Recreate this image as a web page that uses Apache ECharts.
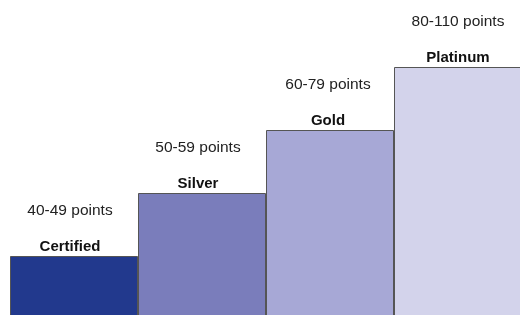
<!DOCTYPE html>
<html>
<head>
<meta charset="utf-8">
<script src="https://cdn.jsdelivr.net/npm/echarts@6/dist/echarts.min.js"></script>
<style>
  html, body { margin: 0; padding: 0; background: #fff; }
  #chart { width: 520px; height: 315px; }
</style>
</head>
<body>
<div id="chart"></div>
<script>
const levels = ['Certified', 'Silver', 'Gold', 'Platinum'];
const pointRanges = ['40-49 points', '50-59 points', '60-79 points', '80-110 points'];
const steps = [1, 2, 3, 4];
const colors = ['#22398d', '#7a7dbb', '#a7a8d6', '#d3d3eb'];
// labels in the original sit slightly left of bar centre
const labelShift = [-4, -4, -2, 0];

const chart = echarts.init(document.getElementById('chart'), null, { renderer: 'canvas' });

chart.setOption({
    animation: false,
    // grid runs a little past the bottom and right edges, like the original
    grid: { left: 10, top: 67, width: 512, height: 252, outerBoundsMode: 'none', containLabel: false },
    xAxis: {
        type: 'category',
        data: levels,
        show: false,
    },
    yAxis: {
        type: 'value',
        min: 0,
        max: 4,
        show: false,
    },
    series: [{
        type: 'bar',
        barWidth: '100%',
        barCategoryGap: 0,
        data: steps.map((v, i) => ({
            value: v,
            itemStyle: { color: colors[i] },
            label: { offset: [labelShift[i], 0] },
        })),
        itemStyle: { borderColor: '#555', borderWidth: 1 },
        label: {
            show: true,
            position: 'top',
            distance: -1,
            formatter: p => `{p|${pointRanges[p.dataIndex]}}\n{n|${p.name}}`,
            rich: {
                p: { fontSize: 15.5, color: '#222', lineHeight: 52, fontFamily: 'Liberation Sans' },
                n: { fontSize: 15, fontWeight: 'bold', color: '#111', lineHeight: 20, fontFamily: 'Liberation Sans' },
            },
        },
    }],
});
</script>
</body>
</html>
